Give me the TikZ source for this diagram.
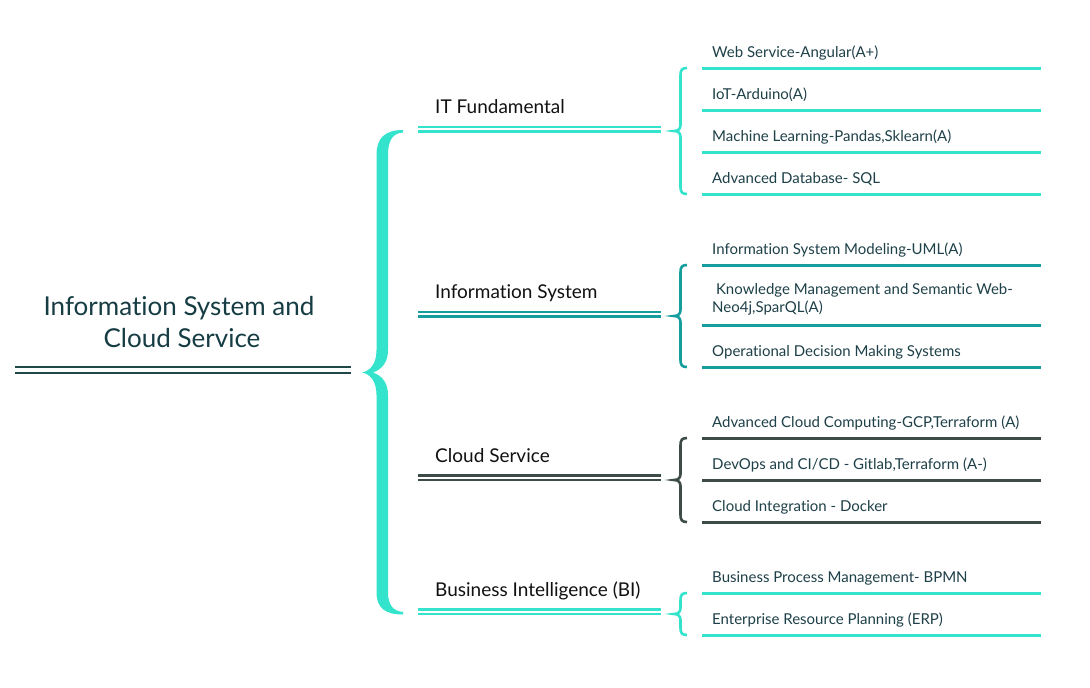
\documentclass[tikz,border=0pt]{standalone}
\usepackage{fontspec}
\setmainfont{Lato}[Ligatures={NoCommon,NoRare,NoDiscretionary}]
\definecolor{aqua}{HTML}{33E3CC}
\definecolor{tealc}{HTML}{169E9E}
\definecolor{slate}{HTML}{3D4B49}
\definecolor{rootline}{HTML}{1F4848}
\definecolor{roottext}{HTML}{163C44}
\definecolor{leaftext}{HTML}{1E4048}
\definecolor{subtext}{HTML}{111111}
\newcommand{\sbrace}[4]{% color, top, mid, bottom
  \draw[#1,line width=2.6pt]
    (687,#2) .. controls (682,#2) and (680.5,{#2+2}) .. (680.5,{#2+7})
    -- (680.5,{#3-6}) .. controls (680.5,{#3-2}) and (678,#3) .. (674,#3)
    .. controls (678,#3) and (680.5,{#3+2}) .. (680.5,{#3+6})
    -- (680.5,{#4-7}) .. controls (680.5,{#4-2}) and (682,#4) .. (687,#4);}
\newcommand{\dline}[2]{% color, y (upper line)
  \draw[#1,line width=2.5pt] (418,#2) -- (661,#2);
  \draw[#1,line width=2.5pt] (418,{#2+4.5}) -- (661,{#2+4.5});}
\newcommand{\lline}[2]{\draw[#1,line width=3pt] (702,#2) -- (1041,#2);}
\tikzset{
  leaf/.style={anchor=base west,inner sep=0pt,font=\fontsize{15}{18}\selectfont,text=leaftext,align=left},
  sub/.style={anchor=base west,inner sep=0pt,font=\fontsize{19}{22}\selectfont,text=subtext},
  rootn/.style={inner sep=0pt,font=\fontsize{26}{32}\selectfont,text=roottext,align=center},
}
\begin{document}
\begin{tikzpicture}[x=1pt,y=-1pt]
\useasboundingbox (0,0) rectangle (1090,688);
\fill[white] (0,0) rectangle (1090,688);
% root
\node[rootn,anchor=base] (root1) at (179,315) {Information System and};
\node[rootn,anchor=base] (root2) at (182,347) {Cloud Service};
\draw[rootline,line width=2.7pt] (15,367) -- (351,367);
\draw[rootline,line width=2.7pt] (15,373) -- (351,373);
% big brace
\fill[aqua] (403,130) .. controls (385,130) and (376.5,138) .. (376.5,155)
  -- (376.5,350) .. controls (376.5,364) and (370,371) .. (362,372.5)
  .. controls (370,374) and (376.5,381) .. (376.5,395)
  -- (376.5,592) .. controls (376.5,608) and (385,614.5) .. (403,614.5)
  -- (403,612) .. controls (393,611) and (388,605) .. (388,592)
  -- (388,395) .. controls (388,384) and (383,376) .. (373,372.5)
  .. controls (383,369) and (388,361) .. (388,350)
  -- (388,155) .. controls (388,140) and (393,133) .. (403,132.5) -- cycle;
% subtopics
\node[sub] (it) at (435,113) {IT Fundamental};
\dline{aqua}{127}
\node[sub] (is) at (435,298) {Information System};
\dline{tealc}{312}
\node[sub] (cs) at (435,462) {Cloud Service};
\dline{slate}{475.5}
\node[sub] (bi) at (435,596) {Business Intelligence (BI)};
\dline{aqua}{609.5}
% IT leaves
\sbrace{aqua}{68}{131}{194}
\node[leaf] (l1) at (712,57) {Web Service-Angular(A+)};
\lline{aqua}{68}
\node[leaf] (l2) at (712,99) {IoT-Arduino(A)};
\lline{aqua}{110}
\node[leaf] (l3) at (712,141) {Machine Learning-Pandas,Sklearn(A)};
\lline{aqua}{152}
\node[leaf] (l4) at (712,183) {Advanced Database- SQL};
\lline{aqua}{194}
% IS leaves
\sbrace{tealc}{265}{316}{367}
\node[leaf] (l5) at (712,254) {Information System Modeling-UML(A)};
\lline{tealc}{265}
\node[leaf,anchor=north west] (l6) at (712,283) {\ Knowledge Management and Semantic Web-\\Neo4j,SparQL(A)};
\lline{tealc}{325}
\node[leaf] (l7) at (712,356) {Operational Decision Making Systems};
\lline{tealc}{367}
% Cloud leaves
\sbrace{slate}{438}{480}{522}
\node[leaf] (l8) at (712,427) {Advanced Cloud Computing-GCP,Terraform (A)};
\lline{slate}{438}
\node[leaf] (l9) at (712,469) {DevOps and CI/CD - Gitlab,Terraform (A-)};
\lline{slate}{480}
\node[leaf] (l10) at (712,511) {Cloud Integration - Docker};
\lline{slate}{522}
% BI leaves
\sbrace{aqua}{593}{614}{635}
\node[leaf] (l11) at (712,582) {Business Process Management- BPMN};
\lline{aqua}{593}
\node[leaf] (l12) at (712,624) {Enterprise Resource Planning (ERP)};
\lline{aqua}{635}
\end{tikzpicture}
\end{document}
